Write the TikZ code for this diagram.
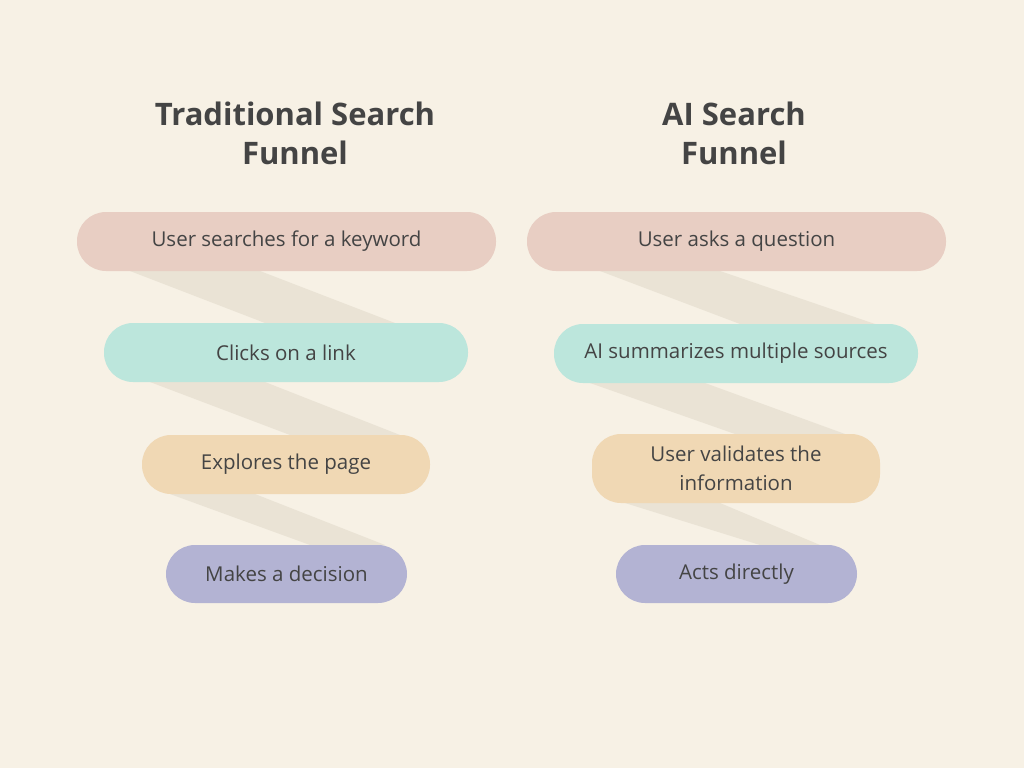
\documentclass[tikz,border=0pt]{standalone}
\usepackage{fontspec}
\setmainfont{Open Sans}
\usetikzlibrary{calc}
\definecolor{bg}{HTML}{F7F1E5}
\definecolor{band}{HTML}{EAE3D5}
\definecolor{cA}{HTML}{E8CEC3}
\definecolor{cB}{HTML}{BCE6DC}
\definecolor{cC}{HTML}{F0D8B4}
\definecolor{cD}{HTML}{B3B3D3}
\definecolor{txt}{HTML}{444444}
\tikzset{
 pill/.style={inner sep=0pt,text=txt,font=\fontsize{20.5}{29}\selectfont,align=center},
 ttl/.style={text=txt,font=\bfseries\fontsize{31}{39}\selectfont,align=center},
}
\newcommand{\pl}[7]{% name, x1,y1,x2,y2, color, text
 \fill[#6,rounded corners=29pt] (#2,#3) rectangle (#4,#5);
 \node[pill] (#1) at ({(#2+#4)/2},{(#3+#5)/2}) {#7};}
\begin{document}
\begin{tikzpicture}[x=1pt,y=-1pt]
\fill[bg] (0,0) rectangle (1024,768);
\useasboundingbox (0,0) rectangle (1024,768);
% bands
\fill[band] (130,271) -- (260,271) -- (395,323) -- (265,323) -- cycle;
\fill[band] (150,382) -- (265,382) -- (400,435) -- (290,435) -- cycle;
\fill[band] (170,494) -- (255,494) -- (385,545) -- (310,545) -- cycle;
\fill[band] (600,271) -- (720,271) -- (875,324) -- (740,324) -- cycle;
\fill[band] (590,383) -- (705,383) -- (845,434) -- (735,434) -- cycle;
\fill[band] (625,503) -- (720,503) -- (820,545) -- (760,545) -- cycle;
\node[ttl] (t1) at (295,133) {Traditional Search\\Funnel};
\node[ttl] (t2) at (734,133) {AI Search\\Funnel};
\pl{a1}{77}{212}{496}{271}{cA}{User searches for a keyword}
\pl{a2}{104}{323}{468}{382}{cB}{Clicks on a link}
\pl{a3}{142}{435}{430}{494}{cC}{Explores the page}
\pl{a4}{166}{545}{407}{603}{cD}{Makes a decision}
\pl{b1}{527}{212}{946}{271}{cA}{User asks a question}
\pl{b2}{554}{324}{918}{383}{cB}{AI summarizes multiple sources}
\pl{b3}{592}{434}{880}{503}{cC}{User validates the\\information}
\pl{b4}{616}{545}{857}{603}{cD}{Acts directly}
\end{tikzpicture}
\end{document}
